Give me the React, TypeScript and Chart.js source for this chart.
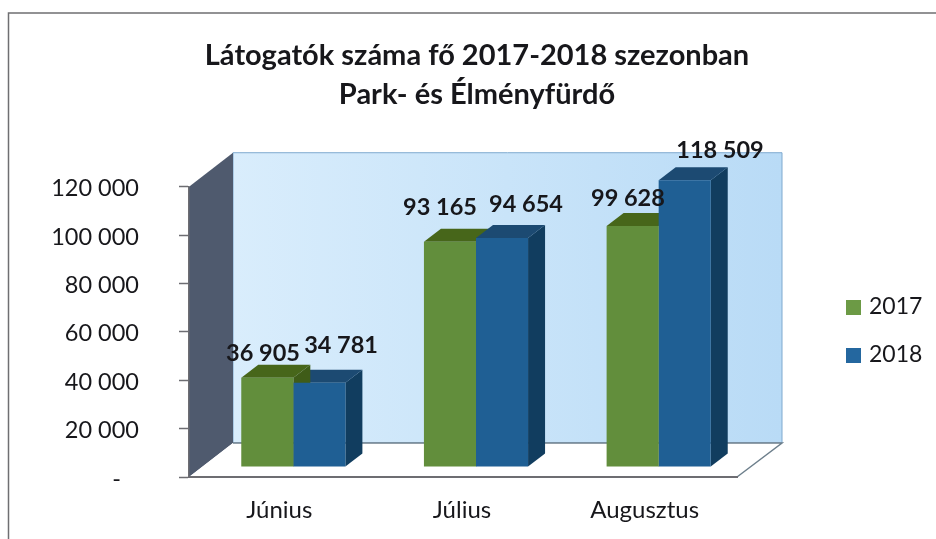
import React, { useEffect, useRef } from "react";
import { Chart, registerables } from "chart.js";

Chart.register(...registerables);

const titleLines = ["Látogatók száma fő 2017-2018 szezonban", "Park- és Élményfürdő"];
const categories = ["Június", "Július", "Augusztus"];
const series2017 = [36905, 93165, 99628];
const series2018 = [34781, 94654, 118509];
const seriesNames = ["2017", "2018"];
const yTicksMax = 120000;
const yTickStep = 20000;

const FONT = "Lato, 'Open Sans', sans-serif";
const TEXT = "#17171b";
const faces = [
  { front: "#628e3c", top: "#47661a", side: "#3f5c18", legend: "#6c9a45" },
  { front: "#1f5f94", top: "#1c4a72", side: "#113d5f", legend: "#24679f" },
];
const WALL_DX = 44;
const WALL_DY = 34;
const BAR_SHIFT_X = 13;
const BAR_SHIFT_Y = 10;
const BAR_DX = 17;
const BAR_DY = 13;
const TITLE_SHIFT = 99.5;
const labelOffsets = [
  [[8.7, -34.5], [3, -44], [8.3, -37.4]],
  [[34.7, -47.7], [37, -43.5], [48.3, -39.6]],
];

const fmt = (v: number) => String(v).replace(/\B(?=(\d{3})+$)/g, " ");

function poly(ctx: CanvasRenderingContext2D, pts: number[][], fill: any, stroke?: string, lw = 1) {
  ctx.beginPath();
  pts.forEach(([x, y], i) => (i ? ctx.lineTo(x, y) : ctx.moveTo(x, y)));
  ctx.closePath();
  ctx.fillStyle = fill;
  ctx.fill();
  if (stroke) {
    ctx.strokeStyle = stroke;
    ctx.lineWidth = lw;
    ctx.stroke();
  }
}

const scene3d = {
  id: "scene3d",
  afterLayout(chart: any) {
    // the title is centred over the whole figure, legend column included
    if (chart.titleBlock) {
      chart.titleBlock.left += TITLE_SHIFT;
      chart.titleBlock.right += TITLE_SHIFT;
    }
  },
  beforeDraw(chart: any) {
    const { ctx, chartArea: a, width, height } = chart;
    ctx.save();
    ctx.fillStyle = "#ffffff";
    ctx.fillRect(0, 0, width, height);
    ctx.strokeStyle = "#6f6f72";
    ctx.lineWidth = 1.5;
    ctx.beginPath();
    ctx.moveTo(8.5, height);
    ctx.lineTo(8.5, 13);
    ctx.lineTo(width, 13);
    ctx.stroke();

    const bl = a.left + WALL_DX;
    const br = a.right + WALL_DX + 1;
    const bt = a.top - WALL_DY;
    const bb = a.bottom - WALL_DY;
    const g = ctx.createLinearGradient(bl, 0, br, 0);
    g.addColorStop(0, "#d9edfc");
    g.addColorStop(1, "#b9dbf6");
    poly(ctx, [[bl, bt], [br, bt], [br, bb], [bl, bb]], g, "#7ea9cf", 1);
    poly(ctx, [[a.left, a.top], [bl, bt], [bl, bb], [a.left, a.bottom]], "#4f5a6e");
    poly(ctx, [[a.left, a.bottom], [bl, bb], [br, bb], [a.right, a.bottom]], "#ffffff");
    ctx.strokeStyle = "#6d7f8c";
    ctx.lineWidth = 1.5;
    ctx.beginPath();
    ctx.moveTo(bl, bb);
    ctx.lineTo(br, bb);
    ctx.lineTo(a.right, a.bottom);
    ctx.stroke();
    ctx.restore();
  },
  beforeDatasetsDraw(chart: any) {
    const { ctx } = chart;
    ctx.save();
    categories.forEach((_, c) => {
      const items = [0, 1]
        .map((d) => ({ d, el: chart.getDatasetMeta(d).data[c] }))
        .sort((p, q) => q.el.y - p.el.y);
      items.forEach(({ d, el }) => {
        const w = el.width;
        const l = el.x - w / 2 + BAR_SHIFT_X;
        const r = el.x + w / 2 + BAR_SHIFT_X;
        const t = el.y - BAR_SHIFT_Y;
        const b = el.base - BAR_SHIFT_Y;
        poly(ctx, [[r, t], [r + BAR_DX, t - BAR_DY], [r + BAR_DX, b - BAR_DY], [r, b]], faces[d].side);
        poly(ctx, [[l, t], [l + BAR_DX, t - BAR_DY], [r + BAR_DX, t - BAR_DY], [r, t]], faces[d].top);
      });
    });
    ctx.restore();
  },
  beforeDatasetDraw(chart: any) {
    chart.ctx.save();
    chart.ctx.translate(BAR_SHIFT_X, -BAR_SHIFT_Y);
  },
  afterDatasetDraw(chart: any) {
    chart.ctx.restore();
  },
  afterDraw(chart: any) {
    const { ctx } = chart;
    ctx.save();
    ctx.textAlign = "center";
    ctx.textBaseline = "middle";
    ctx.fillStyle = TEXT;
    ctx.font = `bold 23.5px ${FONT}`;
    [series2017, series2018].forEach((vals, d) => {
      const els = chart.getDatasetMeta(d).data;
      vals.forEach((v, c) => {
        const [ox, oy] = labelOffsets[d][c];
        ctx.fillText(fmt(v), els[c].x + ox, els[c].y + oy);
      });
    });
    ctx.textAlign = "left";
    ctx.font = `23px ${FONT}`;
    seriesNames.forEach((name, i) => {
      const y = 307 + i * 48;
      ctx.fillStyle = faces[i].legend;
      ctx.fillRect(846, y - 7, 15, 15);
      ctx.fillStyle = TEXT;
      ctx.fillText(name, 869, y);
    });
    ctx.restore();
  },
};

export default function App() {
  const ref = useRef<HTMLCanvasElement | null>(null);
  useEffect(() => {
    const chart = new Chart(ref.current as HTMLCanvasElement, {
      type: "bar",
      data: {
        labels: categories,
        datasets: [
          { label: seriesNames[0], data: series2017, backgroundColor: faces[0].front, clip: false } as any,
          { label: seriesNames[1], data: series2018, backgroundColor: faces[1].front, clip: false } as any,
        ],
      },
      options: {
        responsive: false,
        animation: false,
        categoryPercentage: 0.57,
        barPercentage: 1,
        layout: { padding: { left: 18, right: 199, top: 0, bottom: 0 } },
        plugins: {
          legend: { display: false },
          tooltip: { enabled: false },
          title: {
            display: true,
            text: titleLines,
            color: TEXT,
            font: { family: FONT, size: 29, weight: "bold", lineHeight: 1.34 },
            padding: { top: 36.5, bottom: 72.5 },
          },
        },
        scales: {
          x: {
            grid: { display: false, drawTicks: false },
            border: { display: true, color: "#6d6d72", width: 2 },
            ticks: { color: TEXT, font: { family: FONT, size: 24 }, padding: 19, labelOffset: -1 },
            afterFit(s: any) {
              s.height = 62;
            },
          },
          y: {
            min: 0,
            max: yTicksMax,
            grid: { drawOnChartArea: false, tickLength: 10, tickColor: "#6d6d72", tickWidth: 1.5 },
            border: { display: true, color: "#6d6d72", width: 1.5 },
            ticks: {
              stepSize: yTickStep,
              color: TEXT,
              font: { family: FONT, size: 23.5 },
              padding: 40,
              labelOffset: 2,
              callback: (v: any) => (v === 0 ? "-   " : fmt(Number(v))),
            },
            afterFit(s: any) {
              s.width = 171;
            },
          },
        },
      } as any,
      plugins: [scene3d],
    });
    return () => chart.destroy();
  }, []);
  return (
    <div style={{ position: "fixed", left: 0, top: 0, width: 936, height: 539 }}>
      <canvas ref={ref} width={936} height={539} style={{ display: "block", filter: "blur(0.4px)" }} />
    </div>
  );
}
